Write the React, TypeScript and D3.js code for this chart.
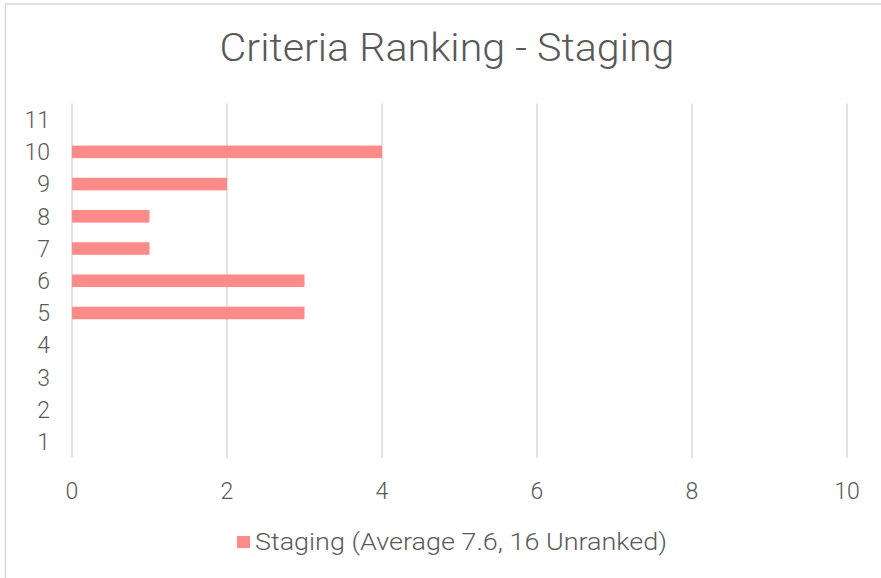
import React from "react";
import * as d3 from "d3";

const categories: string[] = ["1", "2", "3", "4", "5", "6", "7", "8", "9", "10", "11"];
const values: number[] = [0, 0, 0, 0, 3, 3, 1, 1, 2, 4, 0];
const xTicks: number[] = [0, 2, 4, 6, 8, 10];
const title = "Criteria Ranking - Staging";
const seriesName = "Staging (Average 7.6, 16 Unranked)";

const W = 881;
const H = 578;
const FONT = "'Century Gothic', Roboto, 'DejaVu Sans', sans-serif";
const TEXT = "#595959";
const GRID = "#D9D9D9";
const BAR = "#FF8A8A";

export default function App() {
  const plot = { left: 72, right: 847, top: 103.5, bottom: 458 };
  const x = d3.scaleLinear().domain([0, 10]).range([plot.left, plot.right]);
  const y = d3
    .scaleBand<string>()
    .domain([...categories].reverse())
    .range([plot.top, plot.bottom])
    .paddingInner(0.61)
    .paddingOuter(0.305);
  const band = d3
    .scaleBand<string>()
    .domain([...categories].reverse())
    .range([plot.top, plot.bottom]);

  return (
    <svg
      width={W}
      height={H}
      style={{ position: "absolute", left: 0, top: 0, background: "#fff" }}
      fontFamily={FONT}
      fontWeight={300}
    >
      <rect x={0} y={0} width={W} height={H} fill="#fff" />
      <rect x={5.5} y={4} width={W + 10} height={H + 10} fill="#fff" stroke={GRID} strokeWidth={1.5} />
      <text
        x={447}
        y={61}
        textAnchor="middle"
        fontSize={38}
        fill={TEXT}
        textLength={455}
        lengthAdjust="spacingAndGlyphs"
      >
        {title}
      </text>
      {xTicks.map((t) => (
        <g key={t}>
          <line x1={x(t)} x2={x(t)} y1={plot.top} y2={plot.bottom} stroke={GRID} strokeWidth={1.5} />
          <text x={x(t)} y={499} textAnchor="middle" fontSize={23} fill={TEXT}>
            {t}
          </text>
        </g>
      ))}
      {categories.map((c, i) => (
        <g key={c}>
          <rect
            x={x(0)}
            y={y(c)!}
            width={x(values[i]) - x(0)}
            height={y.bandwidth()}
            fill={BAR}
          />
          <text
            x={50}
            y={band(c)! + band.bandwidth() / 2}
            dy="0.36em"
            textAnchor="end"
            fontSize={23}
            fill={TEXT}
          >
            {c}
          </text>
        </g>
      ))}
      <rect x={237} y={536} width={13} height={12} fill={BAR} />
      <text
        x={255}
        y={550}
        fontSize={23}
        fill={TEXT}
        textLength={412}
        lengthAdjust="spacingAndGlyphs"
      >
        {seriesName}
      </text>
    </svg>
  );
}
